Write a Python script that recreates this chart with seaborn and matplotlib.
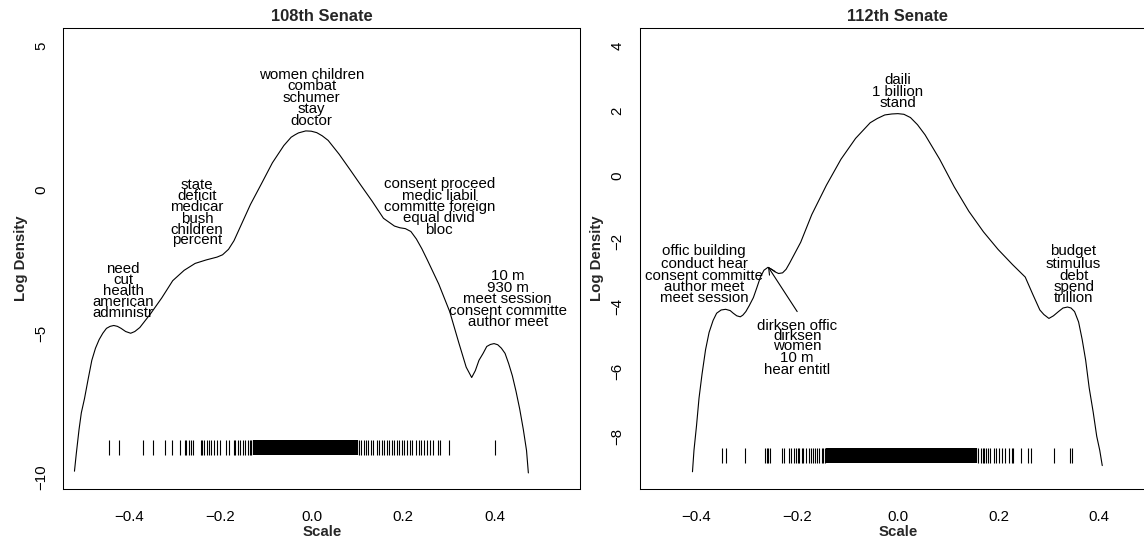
import matplotlib
matplotlib.use("Agg")
import matplotlib.pyplot as plt
import seaborn as sns
import pandas as pd

# ---------------- data ----------------
# 108th Senate density curve (scale, log density)
s108_x = [-0.519, -0.515, -0.509, -0.504, -0.497, -0.489, -0.481, -0.473, -0.465, -0.457,
          -0.449, -0.441, -0.433, -0.425, -0.417, -0.407, -0.396, -0.387, -0.376, -0.352,
          -0.328, -0.304, -0.279, -0.255, -0.231, -0.207, -0.195, -0.182, -0.170, -0.158,
          -0.134, -0.110, -0.086, -0.061, -0.045, -0.037, -0.029, -0.013, -0.001, 0.011,
          0.023, 0.036, 0.060, 0.084, 0.108, 0.132, 0.157, 0.181, 0.193, 0.205,
          0.217, 0.229, 0.241, 0.253, 0.278, 0.302, 0.322, 0.338, 0.342, 0.350,
          0.358, 0.366, 0.375, 0.383, 0.391, 0.399, 0.407, 0.415, 0.423, 0.431,
          0.439, 0.447, 0.455, 0.463, 0.470, 0.474]
s108_y = [-9.80, -9.19, -8.35, -7.77, -7.27, -6.59, -5.94, -5.52, -5.22, -5.00,
          -4.83, -4.76, -4.73, -4.76, -4.83, -4.94, -5.00, -4.94, -4.80, -4.31,
          -3.77, -3.17, -2.81, -2.57, -2.45, -2.35, -2.27, -2.08, -1.78, -1.36,
          -0.52, 0.20, 0.93, 1.53, 1.82, 1.90, 1.97, 2.04, 2.03, 1.98,
          1.87, 1.71, 1.23, 0.69, 0.14, -0.40, -1.00, -1.27, -1.33, -1.36,
          -1.46, -1.72, -2.06, -2.45, -3.29, -4.25, -5.34, -6.18, -6.30, -6.54,
          -6.30, -5.94, -5.70, -5.46, -5.39, -5.36, -5.40, -5.52, -5.70, -6.06,
          -6.48, -7.02, -7.63, -8.35, -9.08, -9.86]

# 112th Senate density curve
s112_x = [-0.408, -0.405, -0.400, -0.395, -0.389, -0.382, -0.375, -0.367, -0.360, -0.351,
          -0.342, -0.333, -0.327, -0.320, -0.313, -0.308, -0.302, -0.295, -0.287, -0.280,
          -0.273, -0.266, -0.258, -0.251, -0.244, -0.237, -0.229, -0.222, -0.215, -0.193,
          -0.171, -0.142, -0.113, -0.084, -0.055, -0.041, -0.026, -0.012, 0.000, 0.012,
          0.025, 0.039, 0.054, 0.083, 0.112, 0.141, 0.170, 0.199, 0.228, 0.253,
          0.268, 0.282, 0.290, 0.300, 0.309, 0.319, 0.328, 0.337, 0.344, 0.351,
          0.359, 0.366, 0.373, 0.380, 0.388, 0.395, 0.401, 0.406]
s112_y = [-9.09, -8.43, -7.68, -6.83, -6.09, -5.34, -4.81, -4.44, -4.22, -4.12,
          -4.10, -4.14, -4.22, -4.30, -4.33, -4.28, -4.17, -3.98, -3.74, -3.43,
          -3.11, -2.90, -2.81, -2.87, -2.95, -3.00, -2.98, -2.87, -2.68, -2.04,
          -1.19, -0.29, 0.51, 1.15, 1.63, 1.76, 1.87, 1.90, 1.91, 1.89,
          1.79, 1.57, 1.26, 0.51, -0.34, -1.09, -1.72, -2.26, -2.73, -3.11,
          -3.64, -4.12, -4.26, -4.38, -4.30, -4.17, -4.06, -4.03, -4.06, -4.17,
          -4.49, -5.02, -5.66, -6.51, -7.26, -8.00, -8.43, -8.90]

# rug positions (scale of individual phrases)
rug108_sparse = [-0.443, -0.422, -0.368, -0.348, -0.322, -0.305, -0.289, -0.278, -0.274, -0.269,
                 -0.265, -0.259, -0.243, -0.240, -0.236, -0.230, -0.225, -0.220, -0.214, -0.207,
                 -0.200, -0.187, -0.180, -0.170, -0.167, -0.161, -0.156, -0.151, -0.145, -0.140,
                 -0.136, -0.132,
                 0.104, 0.107, 0.114, 0.119, 0.123, 0.129, 0.135, 0.142, 0.147, 0.153,
                 0.158, 0.164, 0.169, 0.175, 0.180, 0.186, 0.191, 0.197, 0.202, 0.208,
                 0.214, 0.220, 0.228, 0.235, 0.240, 0.246, 0.252, 0.259, 0.266, 0.277,
                 0.281, 0.301, 0.402]
rug108_dense = [-0.126, -0.123, -0.120, -0.117, -0.114, -0.111, -0.108, -0.105, -0.102, -0.099,
                -0.096, -0.093, -0.090, -0.087, -0.084, -0.081, -0.078, -0.075, -0.072, -0.069,
                -0.066, -0.063, -0.060, -0.057, -0.054, -0.051, -0.048, -0.045, -0.042, -0.039,
                -0.036, -0.033, -0.030, -0.027, -0.024, -0.021, -0.018, -0.015, -0.012, -0.009,
                -0.006, -0.003, 0.000, 0.003, 0.006, 0.009, 0.012, 0.015, 0.018, 0.021,
                0.024, 0.027, 0.030, 0.033, 0.036, 0.039, 0.042, 0.045, 0.048, 0.051,
                0.054, 0.057, 0.060, 0.063, 0.066, 0.069, 0.072, 0.075, 0.078, 0.081,
                0.084, 0.087, 0.090, 0.093, 0.096, 0.099]

rug112_sparse = [-0.350, -0.342, -0.303, -0.264, -0.260, -0.257, -0.254, -0.230, -0.226, -0.217,
                 -0.213, -0.207, -0.202, -0.199, -0.196, -0.191, -0.188, -0.182, -0.176, -0.172,
                 -0.169, -0.164, -0.161, -0.156, -0.151, -0.148, -0.145,
                 0.160, 0.165, 0.169, 0.171, 0.175, 0.180, 0.184, 0.190, 0.195, 0.200,
                 0.206, 0.213, 0.221, 0.226, 0.229, 0.244, 0.259, 0.264, 0.310, 0.342,
                 0.346]
rug112_dense = [-0.141, -0.138, -0.135, -0.132, -0.129, -0.126, -0.123, -0.120, -0.117, -0.114,
                -0.111, -0.108, -0.105, -0.102, -0.099, -0.096, -0.093, -0.090, -0.087, -0.084,
                -0.081, -0.078, -0.075, -0.072, -0.069, -0.066, -0.063, -0.060, -0.057, -0.054,
                -0.051, -0.048, -0.045, -0.042, -0.039, -0.036, -0.033, -0.030, -0.027, -0.024,
                -0.021, -0.018, -0.015, -0.012, -0.009, -0.006, -0.003, 0.000, 0.003, 0.006,
                0.009, 0.012, 0.015, 0.018, 0.021, 0.024, 0.027, 0.030, 0.033, 0.036,
                0.039, 0.042, 0.045, 0.048, 0.051, 0.054, 0.057, 0.060, 0.063, 0.066,
                0.069, 0.072, 0.075, 0.078, 0.081, 0.084, 0.087, 0.090, 0.093, 0.096,
                0.099, 0.102, 0.105, 0.108, 0.111, 0.114, 0.117, 0.120, 0.123, 0.126,
                0.129, 0.132, 0.135, 0.138, 0.141, 0.144, 0.147, 0.150, 0.153, 0.156]

# phrase label groups: x centre, y per line, lines
labels108_x = [-0.4125, -0.251, 0.000, 0.279, 0.429]
labels108_y = [[-2.75, -3.14, -3.53, -3.93, -4.31],
               [0.17, -0.23, -0.61, -1.02, -1.42, -1.77],
               [3.98, 3.59, 3.18, 2.80, 2.37],
               [0.20, -0.22, -0.59, -0.98, -1.40],
               [-3.01, -3.41, -3.81, -4.23, -4.61]]
labels108_txt = [["need", "cut", "health", "american", "administr"],
                 ["state", "deficit", "medicar", "bush", "children", "percent"],
                 ["women children", "combat", "schumer", "stay", "doctor"],
                 ["consent proceed", "medic liabil", "committe foreign", "equal divid", "bloc"],
                 ["10 m", "930 m", "meet session", "consent committe", "author meet"]]

labels112_x = [0.000, -0.385, -0.200, 0.349]
labels112_y = [[2.94, 2.59, 2.23],
               [-2.31, -2.71, -3.07, -3.43, -3.74],
               [-4.60, -4.91, -5.23, -5.61, -5.96],
               [-2.31, -2.70, -3.07, -3.40, -3.74]]
labels112_txt = [["daili", "1 billion", "stand"],
                 ["offic building", "conduct hear", "consent committe", "author meet", "meet session"],
                 ["dirksen offic", "dirksen", "women", "10 m", "hear entitl"],
                 ["budget", "stimulus", "debt", "spend", "trillion"]]
arrow112_from = (-0.200, -4.17)
arrow112_to = (-0.258, -2.79)

titles = ["108th Senate", "112th Senate"]
xticks = [-0.4, -0.2, 0.0, 0.2, 0.4]
yticks108 = [-10, -5, 0, 5]
yticks112 = [-8, -6, -4, -2, 0, 2, 4]

# ---------------- style ----------------
sns.set_theme(style="white")
plt.rcParams["font.family"] = ["Liberation Sans", "DejaVu Sans"]
plt.rcParams["axes.edgecolor"] = "black"
plt.rcParams["axes.linewidth"] = 0.75

FS = 10.8
fig = plt.figure(figsize=(11.44, 5.43), dpi=100)
ax1 = fig.add_axes([0.0555, 0.0994, 0.4515, 0.8490])
ax2 = fig.add_axes([0.5591, 0.0994, 0.4515, 0.8490])


def draw_panel(ax, cx, cy, rs, rd, rug_lo, rug_hi, lx, ly, lt, title, yt, xlim, ylim):
    df = pd.DataFrame({"Scale": cx, "LogDensity": cy})
    sns.lineplot(data=df, x="Scale", y="LogDensity", ax=ax, sort=False,
                 estimator=None, color="black", lw=0.8,
                 solid_joinstyle="round", solid_capstyle="round")
    ax.vlines(rd, rug_lo, rug_hi, color="black", lw=1.6)
    ax.vlines(rs, rug_lo, rug_hi, color="black", lw=0.8)
    for x, ys, ts in zip(lx, ly, lt):
        for y, t in zip(ys, ts):
            ax.text(x, y, t, ha="center", va="center", fontsize=FS, color="black")
    ax.set_xlim(*xlim)
    ax.set_ylim(*ylim)
    ax.set_xticks(xticks)
    ax.set_yticks(yt)
    ax.set_title(title, fontsize=11.9, fontweight="bold", pad=5)
    ax.set_xlabel("Scale", fontsize=FS, fontweight="bold")
    ax.set_ylabel("Log Density", fontsize=FS, fontweight="bold")
    ax.xaxis.set_label_coords(0.5, -0.078)
    ax.yaxis.set_label_coords(-0.068, 0.5)
    ax.tick_params(axis="both", direction="out", length=7, width=0.75,
                   color="black", labelcolor="black", labelsize=FS)
    ax.tick_params(axis="x", pad=8)
    ax.tick_params(axis="y", pad=4)
    for lab in ax.get_yticklabels():
        lab.set_rotation(90)
        lab.set_va("center")
    for sp in ax.spines.values():
        sp.set_visible(True)
        sp.set_color("black")
        sp.set_linewidth(0.75)
    ax.grid(False)


draw_panel(ax1, s108_x, s108_y, rug108_sparse, rug108_dense, -9.24, -8.72,
           labels108_x, labels108_y, labels108_txt, titles[0], yticks108,
           (-0.543, 0.587), (-10.42, 5.62))
draw_panel(ax2, s112_x, s112_y, rug112_sparse, rug112_dense, -8.83, -8.37,
           labels112_x, labels112_y, labels112_txt, titles[1], yticks112,
           (-0.513, 0.513), (-9.62, 4.54))
ax2.annotate("", xy=arrow112_to, xytext=arrow112_from,
             arrowprops=dict(arrowstyle="->", lw=0.8, color="black",
                             mutation_scale=12, shrinkA=0, shrinkB=0))

fig.savefig("out.png", dpi=100)
